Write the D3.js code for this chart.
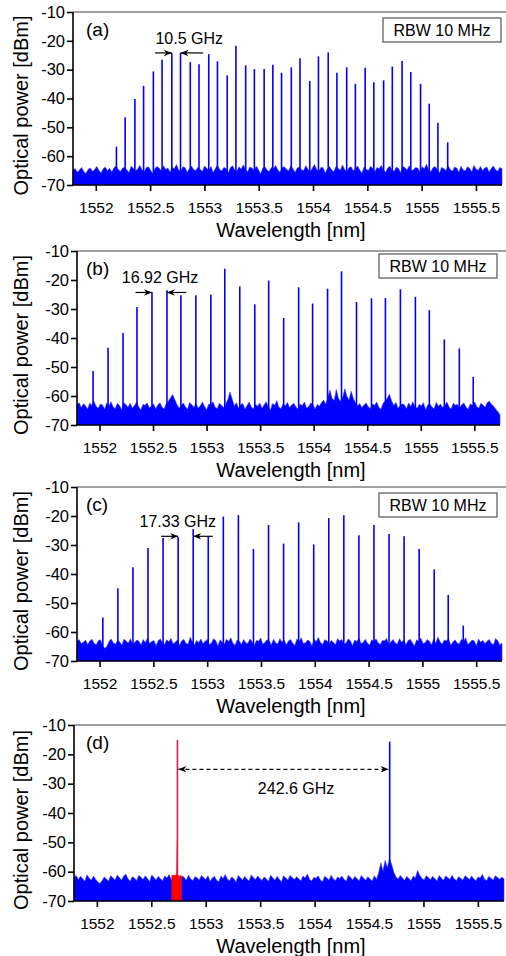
<!DOCTYPE html>
<html>
<head>
<meta charset="UTF-8" />
<script src="https://d3js.org/d3.v7.min.js"></script>
<style>
  body { margin: 0; background: #fff; }
  text { font-family: "Liberation Sans", Arial, sans-serif; fill: #000; }
</style>
</head>
<body>
<svg width="506" height="956"></svg>
<script>
// axis ticks
const xTicks = [1552, 1552.5, 1553, 1553.5, 1554, 1554.5, 1555, 1555.5];
const xTickLabels = ["1552", "1552.5", "1553", "1553.5", "1554", "1554.5", "1555", "1555.5"];
const yTicks = [-70, -60, -50, -40, -30, -20, -10];
const yTickLabels = ["-70", "-60", "-50", "-40", "-30", "-20", "-10"];
const xDomain = [1551.79, 1555.74];
const yDomain = [-70, -10];

// (a) comb lines, 10.5 GHz spacing
const peaksA_nm = [1552.19, 1552.27, 1552.36, 1552.44, 1552.53, 1552.61, 1552.70, 1552.78, 1552.87, 1552.95,
  1553.04, 1553.12, 1553.21, 1553.29, 1553.38, 1553.46, 1553.55, 1553.63, 1553.71, 1553.80,
  1553.88, 1553.97, 1554.05, 1554.14, 1554.22, 1554.31, 1554.39, 1554.48, 1554.56, 1554.65,
  1554.73, 1554.82, 1554.90, 1554.99, 1555.07, 1555.15, 1555.24];
const peaksA_dBm = [-56.7, -46.5, -40.2, -35.6, -30.6, -26.6, -24.2, -24.2, -27.4, -28.1,
  -24.6, -27.1, -32.0, -21.7, -28.5, -29.8, -29.8, -28.3, -31.1, -29.2,
  -26.0, -33.9, -25.4, -24.0, -31.1, -29.2, -34.9, -29.3, -34.4, -33.7,
  -28.9, -27.0, -30.8, -34.9, -41.8, -48.4, -55.2];

// (b) comb lines, 16.92 GHz spacing
const peaksB_nm = [1551.94, 1552.08, 1552.22, 1552.35, 1552.49, 1552.63, 1552.76, 1552.90, 1553.04, 1553.17,
  1553.31, 1553.45, 1553.58, 1553.72, 1553.86, 1553.99, 1554.13, 1554.26, 1554.40, 1554.54,
  1554.67, 1554.81, 1554.95, 1555.08, 1555.22, 1555.36, 1555.49];
const peaksB_dBm = [-51.4, -43.4, -38.3, -29.3, -24.1, -23.5, -25.3, -25.3, -25.0, -16.1,
  -22.2, -28.4, -20.2, -33.1, -22.5, -28.1, -23.0, -17.0, -27.6, -26.3,
  -26.2, -23.2, -25.8, -30.4, -40.5, -43.6, -53.4];

// (c) comb lines, 17.33 GHz spacing
const peaksC_nm = [1552.03, 1552.17, 1552.31, 1552.45, 1552.59, 1552.73, 1552.87, 1553.01, 1553.15, 1553.29,
  1553.43, 1553.57, 1553.71, 1553.85, 1553.99, 1554.13, 1554.27, 1554.41, 1554.55, 1554.69,
  1554.83, 1554.97, 1555.11, 1555.24, 1555.38];
const peaksC_dBm = [-55.0, -44.9, -37.7, -31.0, -27.6, -27.2, -24.5, -26.9, -20.2, -19.7,
  -31.4, -23.1, -29.5, -22.2, -29.8, -20.7, -19.7, -26.6, -23.1, -26.2,
  -27.0, -31.4, -38.4, -47.2, -57.8];

// (d) two tones
const peaksD_nm = [1554.69];
const peaksD_dBm = [-15.7];
const redD_nm = [1552.685, 1552.69, 1552.70, 1552.71, 1552.72, 1552.73, 1552.735, 1552.74, 1552.745, 1552.75, 1552.76, 1552.77, 1552.78];
const redD_dBm = [-61.4, -61.0, -61.3, -61.1, -61.2, -60.9, -49.0, -49.2, -60.8, -61.2, -61.4, -61.2, -61.5];
const redPeak_nm = 1552.74;
const redPeak_dBm = -15.1;

// noise floors, evenly spaced over xDomain
const noiseA = [
  -65.0,-64.3,-65.6,-64.8,-63.9,-65.3,-66.0,-64.6,-64.1,-65.2,-64.7,-63.6,-64.9,-65.8,-64.4,-63.8,-65.1,-64.2,-65.5,-64.0,
  -63.4,-64.6,-65.3,-64.1,-63.9,-64.8,-65.7,-63.5,-64.3,-65.0,-64.5,-63.2,-64.7,-65.4,-64.0,-63.7,-64.9,-66.1,-64.3,-63.6,
  -64.2,-65.1,-63.3,-64.6,-64.1,-65.5,-63.9,-64.4,-62.9,-64.8,-65.2,-63.7,-64.0,-65.6,-64.3,-63.5,-64.7,-65.0,-63.8,-64.5,
  -65.3,-63.4,-64.2,-64.9,-63.6,-65.7,-64.4,-63.1,-64.6,-65.1,-63.9,-64.3,-65.8,-64.0,-63.3,-64.8,-65.2,-63.7,-64.5,-63.0,
  -64.7,-65.4,-63.8,-64.1,-65.0,-63.5,-64.6,-66.2,-64.2,-63.6,-64.9,-65.3,-63.9,-64.4,-63.2,-64.8,-65.6,-64.0,-63.7,-64.5,
  -65.1,-63.4,-64.3,-65.7,-64.1,-63.8,-64.7,-65.0,-63.3,-64.5,-65.4,-64.2,-62.9,-64.6,-65.2,-63.9,-64.0,-65.8,-64.4,-63.6,
  -64.8,-65.3,-63.5,-64.2,-64.9,-63.1,-64.6,-65.5,-64.0,-63.7,-65.1,-64.3,-63.4,-64.8,-65.9,-63.8,-64.5,-65.0,-63.6,-64.1,
  -65.4,-63.9,-64.4,-63.2,-64.7,-65.6,-64.1,-63.5,-64.9,-65.2,-63.8,-64.3,-65.7,-63.6,-64.0,-64.8,-63.3,-65.1,-64.6,-63.9,
  -64.2,-65.5,-63.7,-64.4,-62.8,-64.9,-65.3,-64.0,-63.6,-64.7,-65.8,-63.9,-64.3,-65.0,-63.4,-64.6,-65.2,-63.8,-64.1,-65.6,
  -63.5,-64.8,-65.1,-63.7,-64.2,-65.4,-63.2,-64.5,-64.9,-63.6,-65.0,-64.1,-63.8,-65.5,-64.3,-63.4,-64.7,-65.2,-63.9,-64.4];
const noiseB = [
  -63.0,-62.3,-64.0,-62.7,-63.4,-64.5,-62.5,-63.2,-61.9,-63.6,-64.2,-62.8,-63.1,-64.6,-62.4,-63.5,-62.0,-63.8,-64.3,-62.6,
  -63.3,-64.7,-62.2,-63.0,-63.9,-62.5,-64.1,-63.4,-62.1,-63.7,-64.8,-62.9,-63.2,-62.4,-64.0,-63.6,-62.7,-64.4,-63.1,-62.3,
  -63.8,-64.5,-62.6,-61.8,-60.6,-59.5,-61.2,-62.9,-64.1,-63.3,-62.4,-63.7,-64.6,-62.2,-63.0,-63.9,-62.6,-64.2,-63.4,-62.1,
  -63.6,-64.7,-62.8,-63.1,-62.0,-63.9,-64.3,-62.5,-63.2,-64.0,-62.7,-61.2,-58.6,-61.0,-63.4,-62.3,-64.1,-63.0,-62.6,-64.5,
  -63.3,-62.1,-63.8,-64.4,-62.9,-63.5,-62.4,-64.2,-63.1,-62.0,-63.7,-64.8,-62.6,-63.2,-61.6,-63.9,-64.3,-62.7,-63.4,-62.2,
  -64.0,-63.1,-62.5,-63.8,-64.6,-62.8,-63.3,-62.1,-64.1,-63.6,-62.4,-63.0,-64.5,-62.9,-63.5,-62.3,-61.4,-62.8,-60.6,-58.0,
  -60.9,-61.5,-57.8,-60.8,-61.9,-60.4,-57.5,-60.2,-61.3,-58.4,-60.9,-62.2,-63.4,-62.6,-64.0,-63.1,-62.4,-63.7,-64.3,-62.8,
  -63.2,-62.1,-63.9,-64.6,-62.5,-61.8,-60.7,-59.4,-61.6,-63.3,-62.2,-64.1,-63.5,-62.7,-63.0,-64.4,-62.4,-63.6,-62.0,-63.8,
  -64.2,-62.9,-63.4,-62.3,-64.7,-63.1,-62.6,-63.9,-64.3,-62.2,-63.5,-62.8,-64.0,-63.3,-62.1,-63.7,-64.5,-62.5,-63.2,-62.9,
  -64.1,-63.0,-62.4,-63.8,-64.6,-62.7,-63.3,-62.0,-63.6,-64.2,-62.5,-63.1,-63.9,-62.3,-61.8,-62.9,-63.5,-64.6,-65.4,-66.5];
const noiseC = [
  -63.2,-62.6,-64.0,-63.5,-62.8,-64.3,-63.1,-62.5,-63.9,-64.4,-63.0,-62.7,-64.8,-65.6,-65.0,-63.3,-62.4,-63.8,-64.2,-62.9,
  -63.4,-64.6,-62.5,-63.1,-63.9,-62.3,-64.1,-63.6,-62.8,-63.2,-64.5,-62.6,-63.7,-62.1,-64.0,-63.3,-62.9,-64.7,-63.0,-62.4,
  -63.8,-64.3,-62.7,-63.4,-62.2,-64.1,-63.5,-62.8,-64.6,-63.1,-62.5,-63.9,-64.2,-61.8,-63.3,-64.5,-62.9,-63.6,-62.4,-64.0,
  -63.2,-62.6,-64.4,-63.7,-62.3,-63.0,-64.8,-62.7,-63.5,-64.1,-62.5,-63.3,-62.0,-63.9,-64.6,-62.8,-63.1,-64.3,-62.6,-63.7,
  -64.0,-62.4,-63.4,-64.7,-62.9,-63.2,-62.1,-64.2,-63.6,-62.7,-63.0,-64.5,-62.5,-63.8,-64.1,-62.3,-63.5,-62.8,-64.4,-63.1,
  -62.6,-63.9,-64.6,-62.4,-63.3,-62.0,-64.0,-63.7,-62.8,-63.2,-64.8,-62.5,-63.4,-61.9,-63.6,-64.3,-62.7,-63.0,-64.1,-62.9,
  -63.5,-64.4,-62.3,-63.1,-62.6,-64.2,-63.8,-62.4,-63.0,-64.7,-62.8,-63.3,-62.1,-64.0,-63.6,-62.5,-63.9,-64.5,-62.7,-63.2,
  -62.4,-63.7,-64.3,-62.9,-63.1,-62.2,-64.6,-63.4,-62.6,-63.8,-64.1,-62.3,-63.5,-62.8,-64.4,-63.0,-62.5,-63.6,-64.8,-62.7,
  -63.3,-62.1,-64.0,-63.7,-62.6,-63.2,-64.5,-62.4,-63.9,-61.8,-63.4,-64.2,-62.8,-63.1,-62.3,-64.6,-63.5,-62.7,-63.8,-64.1,
  -62.5,-63.3,-62.0,-64.3,-63.6,-62.8,-63.1,-64.7,-62.4,-63.5,-62.9,-64.0,-63.2,-62.6,-63.9,-64.4,-62.2,-63.0,-64.5,-63.8];
const noiseD = [
  -62.0,-61.3,-62.7,-61.6,-62.4,-63.3,-61.1,-62.2,-62.9,-61.5,-62.6,-63.5,-64.0,-63.1,-61.8,-62.5,-63.2,-61.4,-62.1,-62.8,
  -61.2,-62.0,-62.9,-61.5,-60.9,-62.4,-63.3,-61.7,-62.2,-63.0,-61.3,-61.9,-62.7,-61.4,-62.3,-63.4,-61.1,-62.0,-62.8,-61.6,
  -62.4,-63.1,-61.5,-62.2,-61.0,-62.6,-63.2,-61.8,-62.3,-63.5,-61.4,-62.0,-62.9,-61.2,-62.5,-63.0,-61.7,-62.1,-62.8,-61.3,
  -62.0,-62.7,-61.4,-63.3,-62.2,-61.6,-62.9,-63.4,-61.5,-62.3,-61.0,-62.6,-63.1,-61.8,-62.4,-63.6,-61.3,-62.1,-62.8,-61.6,
  -62.5,-63.2,-61.1,-62.0,-62.7,-61.5,-62.3,-63.0,-61.8,-62.4,-63.3,-61.2,-62.1,-62.9,-61.6,-62.6,-63.5,-61.4,-62.2,-62.8,
  -61.3,-62.0,-62.7,-61.7,-62.4,-63.1,-61.5,-62.2,-60.8,-62.6,-63.2,-61.9,-62.3,-61.4,-62.8,-63.4,-61.6,-62.1,-62.9,-61.2,
  -62.5,-63.0,-61.8,-62.3,-61.5,-62.7,-63.3,-61.2,-62.0,-62.8,-61.6,-62.4,-63.1,-61.3,-62.2,-62.9,-61.7,-62.5,-63.2,-61.4,
  -62.6,-60.4,-57.0,-59.8,-56.2,-58.6,-55.6,-57.5,-60.2,-61.8,-62.5,-61.3,-62.2,-62.9,-61.6,-62.4,-63.0,-61.5,-62.1,-59.6,
  -61.2,-62.3,-62.8,-61.4,-62.0,-62.7,-61.6,-62.4,-63.1,-61.3,-62.2,-62.9,-61.5,-62.1,-62.6,-61.2,-62.5,-63.0,-61.7,-62.3,
  -62.8,-61.4,-62.0,-62.7,-61.5,-62.4,-63.1,-61.8,-62.2,-60.9,-62.6,-63.0,-61.6,-62.3,-62.8,-61.4,-62.0,-62.6,-61.9,-62.4];

const blue = "#0000ff";

const panels = [
  { tag: "(a)", nm: peaksA_nm, db: peaksA_dBm, noise: noiseA, left: 73, right: 502, top: 12, bottom: 185, rbw: [383, 18],
    arrows: { label: "10.5 GHz", labelX: 1552.86, labelY: -21.0, y: -24.2, l: [1552.546, 1552.70], r: [1552.988, 1552.78] } },
  { tag: "(b)", nm: peaksB_nm, db: peaksB_dBm, noise: noiseB, left: 77, right: 500, top: 251, bottom: 425, rbw: [379, 254],
    arrows: { label: "16.92 GHz", labelX: 1552.565, labelY: -21.1, y: -24.3, l: [1552.336, 1552.49], r: [1552.81, 1552.63] } },
  { tag: "(c)", nm: peaksC_nm, db: peaksC_dBm, noise: noiseC, left: 77, right: 502, top: 487, bottom: 661, rbw: [379, 493],
    arrows: { label: "17.33 GHz", labelX: 1552.727, labelY: -23.8, y: -27.0, l: [1552.572, 1552.73], r: [1553.052, 1552.87] } },
  { tag: "(d)", nm: peaksD_nm, db: peaksD_dBm, noise: noiseD, left: 74, right: 504, top: 725, bottom: 901, rbw: null, arrows: null }
];

const svg = d3.select("svg");
const defs = svg.append("defs");
defs.append("marker").attr("id", "head").attr("viewBox", "0 -5 10 10")
  .attr("refX", 10).attr("refY", 0).attr("markerWidth", 9).attr("markerHeight", 8)
  .attr("markerUnits", "userSpaceOnUse").attr("orient", "auto-start-reverse")
  .append("path").attr("d", "M0,-4L10,0L0,4L3,0Z").attr("fill", "#000");

panels.forEach(function (p) {
  const x = d3.scaleLinear().domain(xDomain).range([p.left, p.right]);
  const y = d3.scaleLinear().domain(yDomain).range([p.bottom, p.top]);
  const idx = d3.scaleLinear().domain([0, p.noise.length - 1]).range(xDomain);
  const g = svg.append("g");

  // noise floor
  const area = d3.area()
    .x(function (d, i) { return x(idx(i)); })
    .y0(y(-70))
    .y1(function (d) { return y(d); });
  g.append("path").datum(p.noise).attr("d", area)
    .attr("fill", blue).attr("stroke", "#3b3bff").attr("stroke-width", 0.6);

  // red tone in (d)
  if (p.tag === "(d)") {
    const redArea = d3.area()
      .x(function (d, i) { return x(redD_nm[i]); })
      .y0(y(-70))
      .y1(function (d) { return y(d); });
    g.append("path").datum(redD_dBm).attr("d", redArea).attr("fill", "#ff0000");
    g.append("line").attr("x1", x(redPeak_nm)).attr("x2", x(redPeak_nm))
      .attr("y1", y(-61)).attr("y2", y(redPeak_dBm))
      .attr("stroke", "#d81b4f").attr("stroke-width", 1.6);
  }

  // comb lines
  g.selectAll("line.pk").data(p.nm).enter().append("line").attr("class", "pk")
    .attr("x1", function (d) { return x(d); })
    .attr("x2", function (d) { return x(d); })
    .attr("y1", y(-70))
    .attr("y2", function (d, i) { return y(p.db[i]); })
    .attr("stroke", blue).attr("stroke-width", 1.6);

  // axes
  const xAxis = d3.axisBottom(x).tickValues(xTicks).tickSize(6).tickPadding(11)
    .tickFormat(function (d, i) { return xTickLabels[i]; });
  const xa = g.append("g").attr("transform", "translate(0," + p.bottom + ")").call(xAxis);
  xa.select(".domain").attr("d", "M" + p.left + ",0H" + p.right).attr("stroke-width", 1.6);
  xa.selectAll(".tick line").attr("stroke-width", 1.6);
  xa.selectAll("text").attr("font-size", 15.5).attr("font-family", "Liberation Sans, Arial, sans-serif");

  const yAxis = d3.axisLeft(y).tickValues(yTicks).tickSize(6).tickPadding(2)
    .tickFormat(function (d, i) { return yTickLabels[i]; });
  const ya = g.append("g").attr("transform", "translate(" + p.left + ",0)").call(yAxis);
  ya.select(".domain").attr("d", "M0," + p.top + "V" + p.bottom).attr("stroke-width", 1.6);
  ya.selectAll(".tick line").attr("stroke-width", 1.6);
  ya.selectAll("text").attr("font-size", 16.5).attr("font-family", "Liberation Sans, Arial, sans-serif");

  // top frame
  g.append("line").attr("x1", p.left).attr("x2", 506).attr("y1", p.top).attr("y2", p.top)
    .attr("stroke", "#444").attr("stroke-width", 1.2);

  // titles
  g.append("text").attr("x", 291).attr("y", p.bottom + 52).attr("text-anchor", "middle")
    .attr("font-size", 20).text("Wavelength [nm]");
  g.append("text").attr("transform", "translate(28," + ((p.top + p.bottom) / 2 + 7) + ") rotate(-90)")
    .attr("text-anchor", "middle").attr("font-size", 20).text("Optical power [dBm]");

  g.append("text").attr("x", 86).attr("y", p.top + 24).attr("font-size", 19).text(p.tag);

  if (p.rbw) {
    g.append("rect").attr("x", p.rbw[0]).attr("y", p.rbw[1]).attr("width", 118).attr("height", 24)
      .attr("fill", "#fff").attr("stroke", "#555").attr("stroke-width", 1.2);
    g.append("text").attr("x", p.rbw[0] + 59).attr("y", p.rbw[1] + 18).attr("text-anchor", "middle")
      .attr("font-size", 16).text("RBW 10 MHz");
  }

  if (p.arrows) {
    const a = p.arrows;
    g.append("text").attr("x", x(a.labelX)).attr("y", y(a.labelY)).attr("text-anchor", "middle")
      .attr("font-size", 16).text(a.label);
    [a.l, a.r].forEach(function (s) {
      g.append("line").attr("x1", x(s[0])).attr("x2", x(s[1])).attr("y1", y(a.y)).attr("y2", y(a.y))
        .attr("stroke", "#000").attr("stroke-width", 1.2).attr("marker-end", "url(#head)");
    });
  }

  if (p.tag === "(d)") {
    const ay = y(-25.1);
    g.append("line").attr("x1", x(redPeak_nm) + 1).attr("x2", x(peaksD_nm[0]) - 1).attr("y1", ay).attr("y2", ay)
      .attr("stroke", "#000").attr("stroke-width", 1.2).attr("stroke-dasharray", "4,3")
      .attr("marker-start", "url(#head)").attr("marker-end", "url(#head)");
    g.append("text").attr("x", x(1553.83)).attr("y", y(-33.6)).attr("text-anchor", "middle")
      .attr("font-size", 16).text("242.6 GHz");
  }
});
</script>
</body>
</html>
